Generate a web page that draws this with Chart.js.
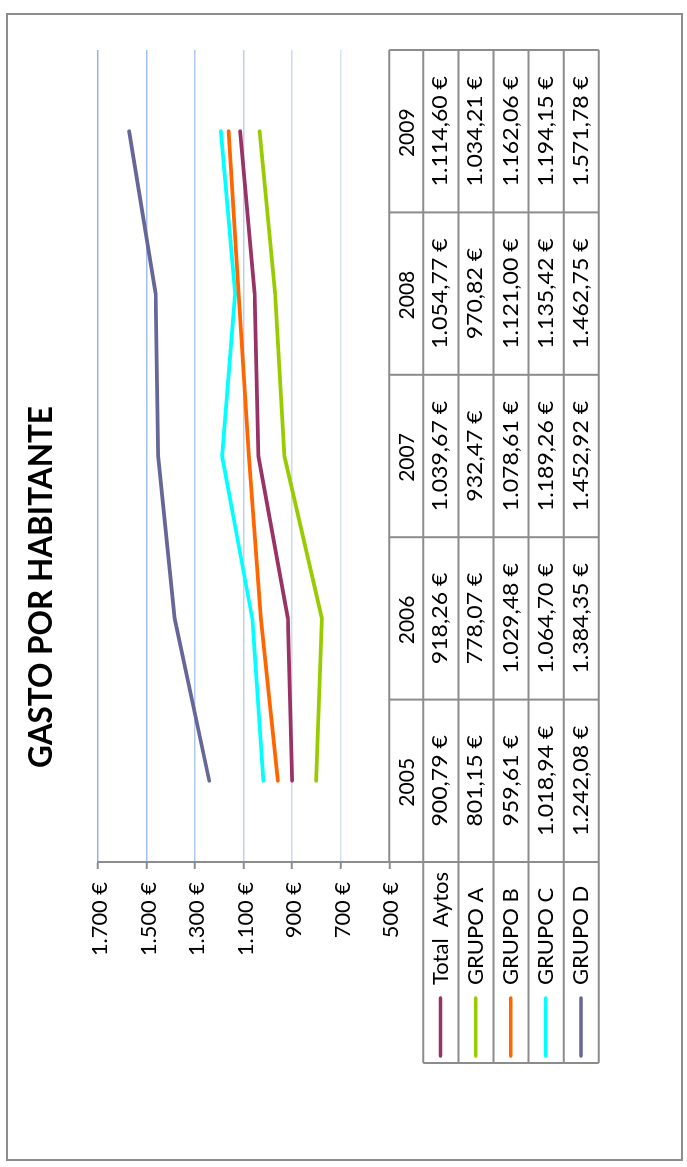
<!DOCTYPE html>
<html>
<head>
<meta charset="utf-8">
<script src="https://cdn.jsdelivr.net/npm/chart.js@4.4.1/dist/chart.umd.min.js"></script>
<style>
html, body { margin: 0; padding: 0; background: #fff; overflow: hidden; }
#wrap {
    position: absolute; left: 0; top: 0;
    width: 1167px; height: 687px;
    transform-origin: 0 0;
    transform: translateY(1167px) rotate(-90deg);
}
</style>
</head>
<body>
<div id="wrap"><canvas id="chart" width="1167" height="687"></canvas></div>
<script>
var years = ['2005', '2006', '2007', '2008', '2009'];
var totalAytos = [900.79, 918.26, 1039.67, 1054.77, 1114.60];
var grupoA = [801.15, 778.07, 932.47, 970.82, 1034.21];
var grupoB = [959.61, 1029.48, 1078.61, 1121.00, 1162.06];
var grupoC = [1018.94, 1064.70, 1189.26, 1135.42, 1194.15];
var grupoD = [1242.08, 1384.35, 1452.92, 1462.75, 1571.78];
var seriesNames = ['Total  Aytos', 'GRUPO A', 'GRUPO B', 'GRUPO C', 'GRUPO D'];
var seriesData = [totalAytos, grupoA, grupoB, grupoC, grupoD];
var seriesColors = ['#993366', '#99cc00', '#ff6600', '#00ffff', '#666699'];
var yTicks = [500, 700, 900, 1100, 1300, 1500, 1700];

var lineGray = '#8c8c8c';
var gridBlues = ['#ffffff', '#d6e1f4', '#cbdaf2', '#bfd1f0', '#b1c8ee', '#a2bfec', '#92b4ea'];

function fmtThousands(intPart) {
    return String(intPart).replace(/\B(?=(\d{3})+(?!\d))/g, '.');
}

function fmtEuro(v, decimals) {
    var s = v.toFixed(decimals);
    var parts = s.split('.');
    var out = fmtThousands(parts[0]);
    if (decimals > 0) out += ',' + parts[1];
    return out + ' \u20ac';
}

// text stretched along its own direction (the source font is wider than Lato)
function wideText(ctx, txt, x, y, sx) {
    ctx.save();
    ctx.translate(x, y);
    ctx.scale(sx, 1);
    ctx.fillText(txt, 0, 0);
    ctx.restore();
}

var tablePlugin = {
    id: 'dataTable',
    beforeDraw: function (chart) {
        var ctx = chart.ctx;
        ctx.save();
        ctx.fillStyle = '#fff';
        ctx.fillRect(0, 0, chart.width, chart.height);
        ctx.strokeStyle = lineGray;
        ctx.lineWidth = 2;
        ctx.strokeRect(7, 7, 1146, 675);
        ctx.restore();
    },
    afterDraw: function (chart) {
        var ctx = chart.ctx;
        var area = chart.chartArea;
        var xScale = chart.scales.x;
        var yScale = chart.scales.y;
        var colW = (area.right - area.left) / years.length;
        var top = area.bottom;
        var headH = 34, rowH = 35.1;
        var bottom = top + headH + rowH * seriesNames.length;
        var legendLeft = 104;

        ctx.save();
        // value axis labels
        ctx.fillStyle = '#000';
        ctx.font = '21px Lato';
        ctx.textAlign = 'right';
        ctx.textBaseline = 'middle';
        yTicks.forEach(function (v) {
            wideText(ctx, fmtEuro(v, 0), 285, yScale.getPixelForValue(v) + 2.2, 1.04);
        });

        // table grid
        ctx.strokeStyle = lineGray;
        ctx.lineWidth = 2;
        ctx.beginPath();
        ctx.moveTo(area.left, top);
        ctx.lineTo(area.right, top);
        for (var r = 0; r <= seriesNames.length; r++) {
            var y = top + headH + r * rowH;
            ctx.moveTo(legendLeft, y);
            ctx.lineTo(area.right, y);
        }
        for (var i = 0; i <= years.length; i++) {
            var x = area.left + i * colW;
            ctx.moveTo(x, top);
            ctx.lineTo(x, bottom);
        }
        ctx.moveTo(legendLeft, top + headH);
        ctx.lineTo(legendLeft, bottom);
        ctx.stroke();

        // table text
        ctx.font = '21px Lato';
        ctx.textAlign = 'center';
        years.forEach(function (yr, i) {
            ctx.fillText(yr, xScale.getPixelForTick(i) - 1.5, top + headH / 2 + 0.9);
        });
        seriesData.forEach(function (vals, s) {
            var cy = top + headH + rowH * s + rowH / 2 - 0.3;
            ctx.font = '21px Lato';
            ctx.textAlign = 'center';
            vals.forEach(function (v, i) {
                wideText(ctx, fmtEuro(v, 2), xScale.getPixelForTick(i), cy, 1.1);
            });
            ctx.font = '22px Lato';
            ctx.textAlign = 'left';
            ctx.fillText(seriesNames[s], 182, cy);
            ctx.strokeStyle = seriesColors[s];
            ctx.lineWidth = 3.5;
            ctx.lineCap = 'round';
            ctx.beginPath();
            ctx.moveTo(111, cy);
            ctx.lineTo(169, cy);
            ctx.stroke();
        });
        ctx.restore();
    }
};

var datasets = seriesNames.map(function (name, s) {
    return {
        label: name,
        data: seriesData[s],
        borderColor: seriesColors[s],
        backgroundColor: seriesColors[s],
        borderWidth: 3.75,
        borderCapStyle: 'round',
        borderJoinStyle: 'round',
        pointRadius: 0,
        tension: 0,
        fill: false
    };
});

new Chart(document.getElementById('chart').getContext('2d'), {
    type: 'line',
    data: { labels: years, datasets: datasets },
    plugins: [tablePlugin],
    options: {
        responsive: false,
        animation: false,
        devicePixelRatio: 1,
        layout: { padding: { left: 43, right: 50, top: 0, bottom: 297.7 } },
        plugins: {
            legend: { display: false },
            tooltip: { enabled: false },
            title: {
                display: true,
                text: 'GASTO POR HABITANTE',
                color: '#000',
                font: { family: 'Lato', size: 31.5, weight: 'bold', lineHeight: 1.2 },
                padding: { top: 23.3, bottom: 37 }
            }
        },
        scales: {
            x: {
                type: 'category',
                display: false,
                offset: true
            },
            y: {
                min: yTicks[0],
                max: yTicks[yTicks.length - 1],
                afterFit: function (scale) { scale.width = 262; },
                border: { color: lineGray, width: 2 },
                grid: {
                    color: function (c) { return gridBlues[c.index] || '#c0d0ee'; },
                    lineWidth: 1.5,
                    tickLength: 7,
                    tickColor: lineGray,
                    tickWidth: 2
                },
                ticks: {
                    stepSize: 200,
                    display: false
                }
            }
        }
    }
});
</script>
</body>
</html>
